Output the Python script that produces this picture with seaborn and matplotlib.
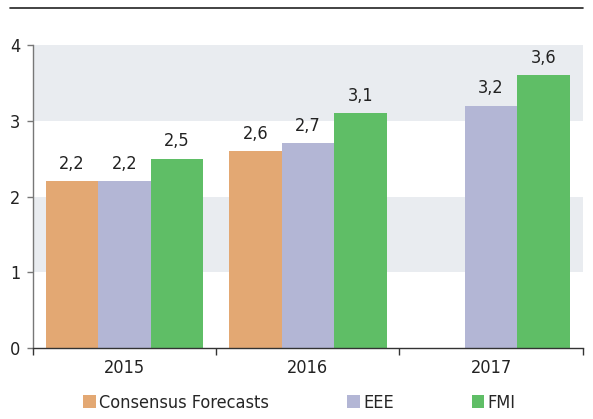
import matplotlib.pyplot as plt
import pandas as pd
import seaborn as sns
import numpy as np
from matplotlib.lines import Line2D

# Data
years = ['2015', '2016', '2017']
series = ['Consensus Forecasts', 'EEE', 'FMI']
consensus = [2.2, 2.6, np.nan]
eee = [2.2, 2.7, 3.2]
fmi = [2.5, 3.1, 3.6]
colors = ['#E3A873', '#B3B6D5', '#5FBE66']

df = pd.DataFrame({
    'year': years * 3,
    'series': [s for s in series for _ in years],
    'value': consensus + eee + fmi,
}).dropna()

sns.set_style('white')
plt.rcParams['font.family'] = ['DejaVu Sans']
plt.rcParams['font.stretch'] = 'condensed'

fig = plt.figure(figsize=(5.93, 4.19), dpi=100)
ax = fig.add_axes([0.0556, 0.1695, 0.927, 0.723])

# grey bands
ax.axhspan(1, 2, color='#E9ECF0', zorder=0, lw=0)
ax.axhspan(3, 4, color='#E9ECF0', zorder=0, lw=0)

sns.barplot(data=df, x='year', y='value', hue='series', order=years,
            hue_order=series, palette=colors, width=0.86, gap=0,
            saturation=1, ax=ax, zorder=2, legend=True, linewidth=0)

for c in ax.containers:
    ax.bar_label(c, fmt=lambda v: f'{v:.1f}'.replace('.', ','),
                 padding=6, fontsize=13, color='#222222')

ax.set_ylim(0, 4)
ax.set_xlim(-0.5, 2.5)
ax.set_yticks([0, 1, 2, 3, 4])
ax.set_xticks([-0.5, 0.5, 1.5, 2.5])
ax.set_xticklabels([])
ax.set_xticks([0, 1, 2], years, minor=True)
ax.tick_params(axis='x', which='major', bottom=True, length=5, width=1,
               color='#333333', direction='out')
ax.tick_params(axis='x', which='minor', bottom=False, length=0, labelsize=13,
               pad=8, labelcolor='#222222')
ax.tick_params(axis='y', length=4, width=1, color='#777777', labelsize=13, pad=5,
               labelcolor='#222222', left=True)
ax.set_xlabel('')
ax.set_ylabel('')

for s in ['top', 'right']:
    ax.spines[s].set_visible(False)
ax.spines['left'].set_color('#777777')
ax.spines['bottom'].set_color('#333333')
ax.spines['left'].set_linewidth(1)
ax.spines['bottom'].set_linewidth(1)

handles, labels = ax.get_legend_handles_labels()
ax.legend(handles, labels, loc='lower center', bbox_to_anchor=(0.505, -0.022),
          bbox_transform=fig.transFigure, ncol=3, frameon=False, fontsize=13,
          handlelength=0.7, handleheight=0.7, handletextpad=0.2, columnspacing=4.3)

fig.add_artist(Line2D([10 / 593, 583 / 593], [1 - 8 / 419, 1 - 8 / 419],
                      color='#222222', lw=1.2, transform=fig.transFigure))

fig.savefig('out.png', dpi=100)
